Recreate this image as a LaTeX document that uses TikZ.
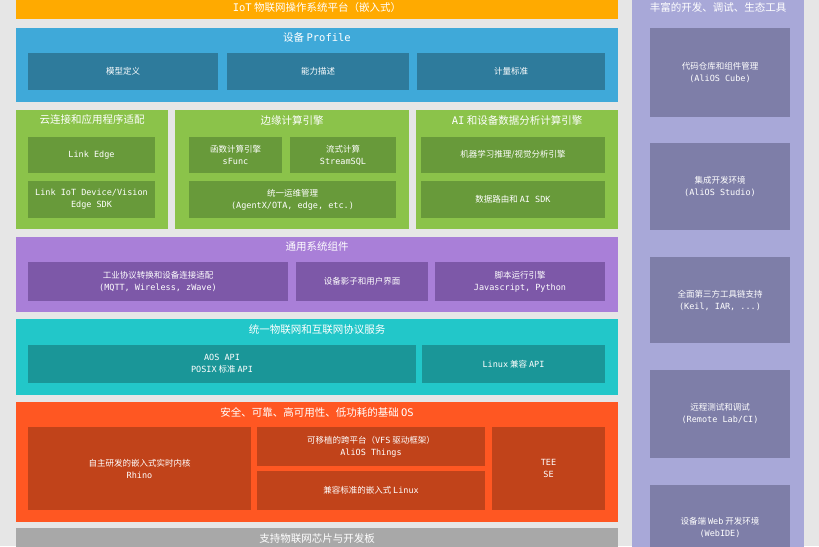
\documentclass[tikz,border=0pt]{standalone}
\usepackage{fontspec}
\setmainfont{Noto Sans CJK SC}
\newfontfamily\mono{DejaVu Sans Mono}
\definecolor{cBg}{HTML}{E6E6E6}
\definecolor{cTop}{HTML}{FFAA00}
\definecolor{cBlue}{HTML}{3FA9D9}
\definecolor{cBlueIn}{HTML}{2E7B9C}
\definecolor{cGreen}{HTML}{8BC34A}
\definecolor{cGreenIn}{HTML}{689A3A}
\definecolor{cPurple}{HTML}{A97FD8}
\definecolor{cPurpleIn}{HTML}{7D58A8}
\definecolor{cTeal}{HTML}{22C7C9}
\definecolor{cTealIn}{HTML}{1A9698}
\definecolor{cRed}{HTML}{FF5722}
\definecolor{cRedIn}{HTML}{C1431A}
\definecolor{cGray}{HTML}{A8A8A8}
\definecolor{cLav}{HTML}{A8A8D8}
\definecolor{cLavIn}{HTML}{7E7EA8}
\tikzset{
  blk/.style={rectangle, draw=none, inner sep=0pt, text=white, align=center,
    font=\fontsize{8.5}{12}\selectfont},
  ttl/.style={inner sep=0pt, text=white, font=\fontsize{10.5}{13}\selectfont},
}
\begin{document}
\begin{tikzpicture}[x=1pt,y=-1pt]
\useasboundingbox (0,0) rectangle (819,546);
\fill[cBg] (0,0) rectangle (819,546);
% top bar
\node[blk, fill=cTop, minimum width=602, minimum height=22] (top) at (317,8) {};
\node[ttl] (ttop) at (317,8) {{\mono IoT} 物联网操作系统平台（嵌入式）};
% blue
\node[blk, fill=cBlue, minimum width=602, minimum height=74] (blue) at (317,65) {};
\node[ttl] (tblue) at (317,38) {设备 {\mono Profile}};
\node[blk, fill=cBlueIn, minimum width=190, minimum height=37] (b1) at (123,71.5) {模型定义};
\node[blk, fill=cBlueIn, minimum width=182, minimum height=37] (b2) at (318,71.5) {能力描述};
\node[blk, fill=cBlueIn, minimum width=188, minimum height=37] (b3) at (511,71.5) {计量标准};
% green
\node[blk, fill=cGreen, minimum width=152, minimum height=119] (g1) at (92,169.5) {};
\node[blk, fill=cGreen, minimum width=234, minimum height=119] (g2) at (292,169.5) {};
\node[blk, fill=cGreen, minimum width=202, minimum height=119] (g3) at (517,169.5) {};
\node[ttl] (tg1) at (92,120) {云连接和应用程序适配};
\node[ttl] (tg2) at (292,120) {边缘计算引擎};
\node[ttl] (tg3) at (517,120) {{\mono AI} 和设备数据分析计算引擎};
\node[blk, fill=cGreenIn, minimum width=127, minimum height=36] (g1a) at (91.5,155) {{\mono Link Edge}};
\node[blk, fill=cGreenIn, minimum width=127, minimum height=37] (g1b) at (91.5,199.5) {{\mono Link IoT Device/Vision}\\{\mono Edge SDK}};
\node[blk, fill=cGreenIn, minimum width=93, minimum height=36] (g2a) at (235.5,155) {函数计算引擎\\{\mono sFunc}};
\node[blk, fill=cGreenIn, minimum width=106, minimum height=36] (g2b) at (343,155) {流式计算\\{\mono StreamSQL}};
\node[blk, fill=cGreenIn, minimum width=207, minimum height=37] (g2c) at (292.5,199.5) {统一运维管理\\{\mono (AgentX/OTA, edge, etc.)}};
\node[blk, fill=cGreenIn, minimum width=184, minimum height=36] (g3a) at (513,155) {机器学习推理/视觉分析引擎};
\node[blk, fill=cGreenIn, minimum width=184, minimum height=37] (g3b) at (513,199.5) {数据路由和 {\mono AI SDK}};
% purple
\node[blk, fill=cPurple, minimum width=602, minimum height=75] (purple) at (317,274.5) {};
\node[ttl] (tpurple) at (317,247) {通用系统组件};
\node[blk, fill=cPurpleIn, minimum width=260, minimum height=39] (p1) at (158,281.5) {工业协议转换和设备连接适配\\{\mono (MQTT, Wireless, zWave)}};
\node[blk, fill=cPurpleIn, minimum width=132, minimum height=39] (p2) at (362,281.5) {设备影子和用户界面};
\node[blk, fill=cPurpleIn, minimum width=170, minimum height=39] (p3) at (520,281.5) {脚本运行引擎\\{\mono Javascript, Python}};
% teal
\node[blk, fill=cTeal, minimum width=602, minimum height=76] (teal) at (317,357) {};
\node[ttl] (tteal) at (317,330) {统一物联网和互联网协议服务};
\node[blk, fill=cTealIn, minimum width=388, minimum height=38] (t1) at (222,364) {{\mono AOS API}\\{\mono POSIX} 标准 {\mono API}};
\node[blk, fill=cTealIn, minimum width=183, minimum height=38] (t2) at (513.5,364) {{\mono Linux} 兼容 {\mono API}};
% red
\node[blk, fill=cRed, minimum width=602, minimum height=120] (red) at (317,462) {};
\node[ttl] (tred) at (317,412) {安全、可靠、高可用性、低功耗的基础 {\mono OS}};
\node[blk, fill=cRedIn, minimum width=223, minimum height=83] (o1) at (139.5,468.5) {自主研发的嵌入式实时内核\\{\mono Rhino}};
\node[blk, fill=cRedIn, minimum width=228, minimum height=39] (o2) at (371,446.5) {可移植的跨平台（{\mono VFS} 驱动框架）\\{\mono AliOS Things}};
\node[blk, fill=cRedIn, minimum width=228, minimum height=39] (o3) at (371,490.5) {兼容标准的嵌入式 {\mono Linux}};
\node[blk, fill=cRedIn, minimum width=113, minimum height=83] (o4) at (548.5,468.5) {{\mono TEE}\\{\mono SE}};
% gray
\node[blk, fill=cGray, minimum width=602, minimum height=32] (gray) at (317,544) {};
\node[ttl] (tgray) at (317,539) {支持物联网芯片与开发板};
% right column
\node[blk, fill=cLav, minimum width=172, minimum height=570] (lav) at (718,275) {};
\node[ttl] (tlav) at (718,7) {丰富的开发、调试、生态工具};
\node[blk, fill=cLavIn, minimum width=140, minimum height=89] (r1) at (720,72.5) {代码仓库和组件管理\\{\mono (AliOS Cube)}};
\node[blk, fill=cLavIn, minimum width=140, minimum height=87] (r2) at (720,186.5) {集成开发环境\\{\mono (AliOS Studio)}};
\node[blk, fill=cLavIn, minimum width=140, minimum height=86] (r3) at (720,300) {全面第三方工具链支持\\{\mono (Keil, IAR, ...)}};
\node[blk, fill=cLavIn, minimum width=140, minimum height=88] (r4) at (720,414) {远程测试和调试\\{\mono (Remote Lab/CI)}};
\node[blk, fill=cLavIn, minimum width=140, minimum height=85] (r5) at (720,527.5) {设备端 {\mono Web} 开发环境\\{\mono (WebIDE)}};
\end{tikzpicture}
\end{document}
